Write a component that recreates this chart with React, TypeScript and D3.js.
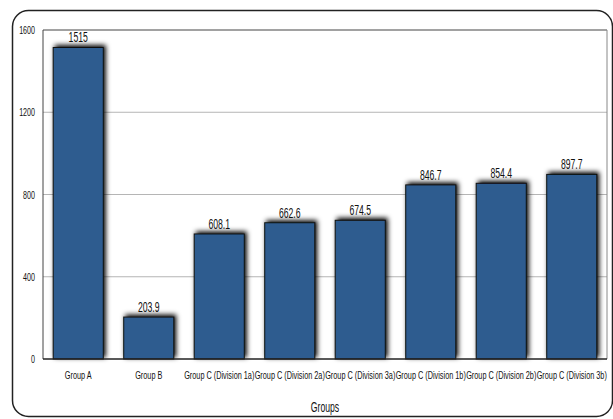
import React from "react";
import * as d3 from "d3";

const categories = [
  "Group A",
  "Group B",
  "Group C (Division 1a)",
  "Group C (Division 2a)",
  "Group C (Division 3a)",
  "Group C (Division 1b)",
  "Group C (Division 2b)",
  "Group C (Division 3b)",
];
const values = [1515, 203.9, 608.1, 662.6, 674.5, 846.7, 854.4, 897.7];
const valueLabels = ["1515", "203.9", "608.1", "662.6", "674.5", "846.7", "854.4", "897.7"];
const yTicks = [0, 400, 800, 1200, 1600];
const xTitle = "Groups";

const W = 613;
const H = 419;
const plot = { left: 43, right: 607, top: 30, bottom: 359 };
const FONT = "'Liberation Sans', Arial, sans-serif";
const SQUEEZE = 0.62;

// Condensed label: horizontally squeezed text anchored at (x, y)
function Narrow({
  x,
  y,
  anchor = "middle",
  size,
  dy,
  children,
}: {
  x: number;
  y: number;
  anchor?: "start" | "middle" | "end";
  size: number;
  dy?: string;
  children: React.ReactNode;
}) {
  return (
    <text
      transform={`translate(${x},${y}) scale(${SQUEEZE},1)`}
      textAnchor={anchor}
      fontSize={size}
      dy={dy}
      fill="#111"
    >
      {children}
    </text>
  );
}

export default function App() {
  const x = d3
    .scaleBand<string>()
    .domain(categories)
    .range([plot.left, plot.right])
    .paddingInner(0.29)
    .paddingOuter(0.145);
  const y = d3.scaleLinear().domain([0, 1600]).range([plot.bottom, plot.top]);

  return (
    <svg
      width={W}
      height={H}
      style={{ position: "absolute", left: 0, top: 0, background: "#fff" }}
      fontFamily={FONT}
    >
      <defs>
        <filter id="barShadow" x="-20%" y="-20%" width="140%" height="140%">
          <feGaussianBlur in="SourceAlpha" stdDeviation="2.4" />
          <feOffset dx="1.5" dy="-2.5" result="blur" />
          <feComponentTransfer>
            <feFuncA type="linear" slope="1" />
          </feComponentTransfer>
          <feMerge>
            <feMergeNode />
            <feMergeNode in="SourceGraphic" />
          </feMerge>
        </filter>
      </defs>

      {/* outer frame */}
      <rect x={12.5} y={10.5} width={600} height={406} rx={16} fill="#fff" stroke="#222" strokeWidth={1.5} />

      {/* grid */}
      {yTicks.slice(1, -1).map((t) => (
        <line key={t} x1={plot.left} x2={plot.right} y1={y(t)} y2={y(t)} stroke="#b5b5b5" strokeWidth={1} />
      ))}

      {/* plot frame */}
      <line x1={plot.left} x2={plot.right} y1={plot.top} y2={plot.top} stroke="#444" strokeWidth={1} />
      <line x1={plot.left} x2={plot.left} y1={plot.top} y2={plot.bottom} stroke="#444" strokeWidth={1} />
      <line x1={plot.right} x2={plot.right} y1={plot.top} y2={plot.bottom} stroke="#888" strokeWidth={1} />

      {/* y tick labels */}
      {yTicks.map((t) => (
        <Narrow key={t} x={35} y={y(t)} anchor="end" size={11.5} dy="0.35em">
          {t}
        </Narrow>
      ))}

      {/* bars */}
      {categories.map((c, i) => (
        <rect
          key={c}
          x={x(c)!}
          y={y(values[i])}
          width={x.bandwidth()}
          height={y(0) - y(values[i])}
          fill="#2d5b8f"
          stroke="#111"
          strokeWidth={1}
          filter="url(#barShadow)"
        />
      ))}

      {/* baseline */}
      <line x1={plot.left} x2={plot.right} y1={plot.bottom} y2={plot.bottom} stroke="#222" strokeWidth={1.5} />

      {/* value labels */}
      {categories.map((c, i) => (
        <Narrow key={c} x={x(c)! + x.bandwidth() / 2} y={y(values[i]) - 5} size={14}>
          {valueLabels[i]}
        </Narrow>
      ))}

      {/* category labels */}
      {categories.map((c) => (
        <Narrow key={c} x={x(c)! + x.bandwidth() / 2} y={379} size={11.8}>
          {c}
        </Narrow>
      ))}

      <Narrow x={(plot.left + plot.right) / 2} y={412} size={14}>
        {xTitle}
      </Narrow>
    </svg>
  );
}
